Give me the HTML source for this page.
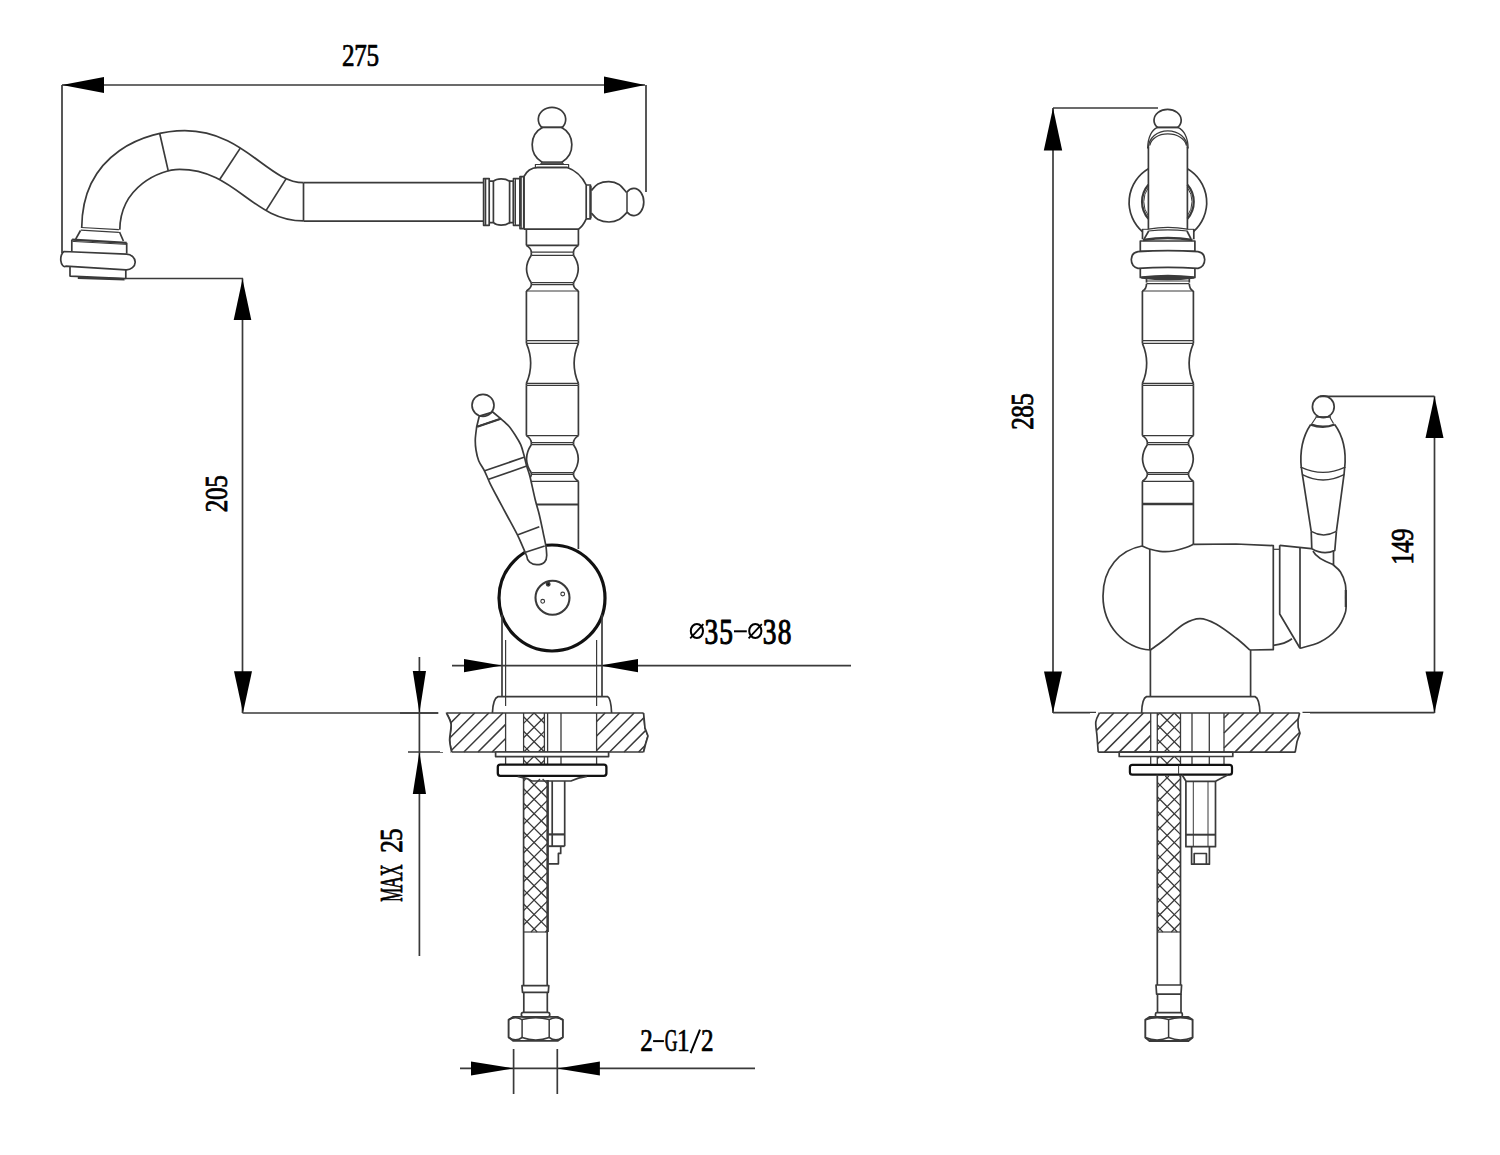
<!DOCTYPE html>
<html><head><meta charset="utf-8"><style>
html,body{margin:0;padding:0;background:#fff;width:1500px;height:1155px;overflow:hidden}
svg{display:block}
text{font-family:"Liberation Serif",serif;font-weight:normal;fill:#000;stroke:#000;stroke-width:0.75px}
</style></head><body>
<svg width="1500" height="1155" viewBox="0 0 1500 1155">
<g fill="none" stroke="#3a3a3a" stroke-width="1.7" stroke-linejoin="round" stroke-linecap="butt">
<line x1="62" y1="85" x2="645" y2="85"/>
<path d="M62 85 L104 77 L104 93 Z" fill="#000" stroke="none"/>
<path d="M645 85 L604 76.5 L604 93.5 Z" fill="#000" stroke="none"/>
<line x1="62" y1="85" x2="62" y2="253"/>
<line x1="646" y1="85" x2="646" y2="192"/>
<text transform="translate(348.2 65.8) scale(0.81 1)" font-size="31" text-anchor="middle">2</text>
<text transform="translate(360.5 65.8) scale(0.81 1)" font-size="31" text-anchor="middle">7</text>
<text transform="translate(372.8 65.8) scale(0.81 1)" font-size="31" text-anchor="middle">5</text>
<line x1="125" y1="278.5" x2="243" y2="278.5"/>
<line x1="242.5" y1="278.5" x2="242.5" y2="713"/>
<path d="M242.5 279 L233.7 320 L251.3 320 Z" fill="#000" stroke="none"/>
<path d="M243 712.8 L234 671.3 L252 671.3 Z" fill="#000" stroke="none"/>
<line x1="242.5" y1="713" x2="438.4" y2="713"/>
<text transform="translate(227.2 506) rotate(-90) scale(0.81 1)" font-size="31" text-anchor="middle">2</text>
<text transform="translate(227.2 493.8) rotate(-90) scale(0.81 1)" font-size="31" text-anchor="middle">0</text>
<text transform="translate(227.2 481.6) rotate(-90) scale(0.81 1)" font-size="31" text-anchor="middle">5</text>
<line x1="419.4" y1="657" x2="419.4" y2="956"/>
<path d="M419.4 713 L412.8 671 L426 671 Z" fill="#000" stroke="none"/>
<path d="M419.4 752 L412.8 794 L426 794 Z" fill="#000" stroke="none"/>
<line x1="400" y1="713" x2="438" y2="713"/>
<line x1="408" y1="752" x2="443" y2="752"/>
<text transform="translate(402.2 894.8) rotate(-90) scale(0.5 1)" font-size="31" text-anchor="middle">M</text>
<text transform="translate(402.2 882.4) rotate(-90) scale(0.56 1)" font-size="31" text-anchor="middle">A</text>
<text transform="translate(402.2 870.2) rotate(-90) scale(0.53 1)" font-size="31" text-anchor="middle">X</text>
<text transform="translate(402.2 846.4) rotate(-90) scale(0.81 1)" font-size="31" text-anchor="middle">2</text>
<text transform="translate(402.2 834.8) rotate(-90) scale(0.81 1)" font-size="31" text-anchor="middle">5</text>
<line x1="452" y1="665.6" x2="851" y2="665.6"/>
<path d="M502 665.6 L464 659 L464 672.2 Z" fill="#000" stroke="none"/>
<path d="M600 665.6 L638 659 L638 672.2 Z" fill="#000" stroke="none"/>
<text transform="translate(711.4 643.6) scale(0.76 1)" font-size="36" text-anchor="middle" style="stroke-width:1.1px">3</text>
<text transform="translate(726.2 643.6) scale(0.76 1)" font-size="36" text-anchor="middle" style="stroke-width:1.1px">5</text>
<text transform="translate(769.6 643.6) scale(0.76 1)" font-size="36" text-anchor="middle" style="stroke-width:1.1px">3</text>
<text transform="translate(784.6 643.6) scale(0.76 1)" font-size="36" text-anchor="middle" style="stroke-width:1.1px">8</text>
<line x1="734" y1="631.3" x2="746.8" y2="631.3" stroke-width="2" stroke="#000"/>
<ellipse cx="696.9" cy="631" rx="6.1" ry="7.1" stroke="#000" stroke-width="2.0"/>
<line x1="690.2" y1="638.3" x2="703.4" y2="624.2" stroke-width="1.8" stroke="#000"/>
<ellipse cx="755.3" cy="631" rx="6.1" ry="7.1" stroke="#000" stroke-width="2.0"/>
<line x1="748.6" y1="638.3" x2="761.8" y2="624.2" stroke-width="1.8" stroke="#000"/>
<line x1="460" y1="1068.4" x2="755" y2="1068.4"/>
<line x1="513.6" y1="1049" x2="513.6" y2="1094"/>
<line x1="557.3" y1="1049" x2="557.3" y2="1094"/>
<path d="M513.6 1068.4 L471 1061.4 L471 1075.4 Z" fill="#000" stroke="none"/>
<path d="M557.3 1068.4 L599.9 1061.4 L599.9 1075.4 Z" fill="#000" stroke="none"/>
<text transform="translate(646.5 1051.3) scale(0.81 1)" font-size="31" text-anchor="middle">2</text>
<text transform="translate(671.1 1051.3) scale(0.57 1)" font-size="31" text-anchor="middle">G</text>
<text transform="translate(683.2 1051.3) scale(0.81 1)" font-size="31" text-anchor="middle">1</text>
<text transform="translate(707.3 1051.3) scale(0.81 1)" font-size="31" text-anchor="middle">2</text>
<line x1="653.1" y1="1041.1" x2="663.9" y2="1041.1" stroke-width="2" stroke="#000"/>
<line x1="690.6" y1="1053.2" x2="700" y2="1029.6" stroke-width="2" stroke="#000"/>
<line x1="1053" y1="108" x2="1158" y2="108"/>
<line x1="1053" y1="108" x2="1053" y2="713"/>
<path d="M1053 108 L1043.8 150.4 L1062.2 150.4 Z" fill="#000" stroke="none"/>
<path d="M1053 712.7 L1044 671.5 L1062 671.5 Z" fill="#000" stroke="none"/>
<line x1="1053" y1="712.7" x2="1096" y2="712.7"/>
<text transform="translate(1033 423.5) rotate(-90) scale(0.81 1)" font-size="31" text-anchor="middle">2</text>
<text transform="translate(1033 411.4) rotate(-90) scale(0.81 1)" font-size="31" text-anchor="middle">8</text>
<text transform="translate(1033 399.4) rotate(-90) scale(0.81 1)" font-size="31" text-anchor="middle">5</text>
<line x1="1320" y1="396.3" x2="1434.5" y2="396.3"/>
<line x1="1434.5" y1="396.3" x2="1434.5" y2="713"/>
<path d="M1434.5 396.3 L1425.5 438 L1443.5 438 Z" fill="#000" stroke="none"/>
<path d="M1434.5 712.7 L1425.5 671.5 L1443.5 671.5 Z" fill="#000" stroke="none"/>
<line x1="1302.5" y1="712.7" x2="1434.5" y2="712.7"/>
<text transform="translate(1412.6 558.6) rotate(-90) scale(0.81 1)" font-size="31" text-anchor="middle">1</text>
<text transform="translate(1412.6 546.8) rotate(-90) scale(0.81 1)" font-size="31" text-anchor="middle">4</text>
<text transform="translate(1412.6 534.8) rotate(-90) scale(0.81 1)" font-size="31" text-anchor="middle">9</text>
<path d="M81.7 228 C82.2 151.7 147.3 130.7 184.8 130.7 C243.6 130.7 268.6 182.7 303.5 182.7"/>
<path d="M119.8 229.8 C120.2 186.7 160.3 169.4 179.6 169.4 C235.5 169.4 252.2 220.9 303.5 220.9"/>
<line x1="159.7" y1="133.5" x2="168.3" y2="171.1"/>
<line x1="240.3" y1="148.1" x2="219.5" y2="179.8"/>
<line x1="286.2" y1="178.6" x2="266.3" y2="210.1"/>
<line x1="303.5" y1="182.7" x2="303.5" y2="220.9"/>
<line x1="303.5" y1="182.6" x2="483.6" y2="182.6"/>
<line x1="303.5" y1="221.2" x2="483.6" y2="221.2"/>
<path d="M483.6 178.6 L489.2 178.6 L489.2 225.3 L483.6 225.3Z"/>
<line x1="485.5" y1="179" x2="485.5" y2="225" stroke-width="1.6"/>
<path d="M489.2 181.2 L493.4 181.2 C497 178 505 178 509.6 181.2 L509.6 222.7 C505 226 497 226 493.4 222.7 L489.2 222.7"/>
<line x1="493.4" y1="181.2" x2="493.4" y2="222.7"/>
<path d="M509.6 181.2 L513.5 181.2 L513.5 222.7 L509.6 222.7"/>
<path d="M513.5 178.6 L520 178.6 L520 225.3 L513.5 225.3Z"/>
<line x1="515.5" y1="178.6" x2="515.5" y2="225.3" stroke-width="1"/>
<path d="M520 176.6 L523.9 176.6 L523.9 228.6 L520 228.6Z"/>
<line x1="521.6" y1="176.6" x2="521.6" y2="228.6" stroke-width="0.9"/>
<path d="M523.9 228.6 L523.9 176.6 Q528 168 537.5 167.3 L566.8 167.3 Q580 172 586.2 185 L586.2 218.8 Q583 226 578.4 229.2 L523.9 229.2"/>
<path d="M535.4 164.5 L568.6 164.5 L568.6 167.6 L535.4 167.6Z" stroke-width="1.2"/>
<path d="M542 161.8 L562 161.8 L563.8 164.4 L540.3 164.4Z" fill="#555" stroke="#333" stroke-width="0.8"/>
<path d="M542.7 127.3 A20 20 0 0 0 542.1 162.2"/>
<path d="M561.3 127.3 A20 20 0 0 1 561.9 162.2"/>
<path d="M541.7 127.3 A13.7 12 0 1 1 562.3 127.3"/>
<line x1="540.8" y1="127.3" x2="563.2" y2="127.3" stroke-width="2"/>
<path d="M586.2 185 L590.5 185 L590.5 218.8 L586.2 218.8"/>
<line x1="590.5" y1="186" x2="590.5" y2="218" stroke-width="2.2"/>
<path d="M591.4 190.5 C592.5 189.42 595.07 185.48 598 184 C600.93 182.52 605.5 181.52 609 181.6 C612.5 181.68 616.08 182.68 619 184.5 C621.92 186.32 625.25 191.17 626.5 192.5"/>
<path d="M591.4 213 C592.5 214.08 595.07 218 598 219.5 C600.93 221 605.5 222 609 222 C612.5 222 616 221.12 619 219.5 C622 217.88 625.67 213.5 627 212.3"/>
<path d="M627 192 A10 13.6 0 1 1 627 212"/>
<line x1="627" y1="192" x2="627" y2="212" stroke-width="1.5"/>
<line x1="526.4" y1="229.2" x2="526.4" y2="245.4"/>
<line x1="578.4" y1="229.2" x2="578.4" y2="245.4"/>
<line x1="526.4" y1="245.4" x2="578.4" y2="245.4" stroke-width="1.6"/>
<path d="M526.4 245.4 Q531.3 248.46 531.3 252.2"/>
<path d="M578.4 245.4 Q573.5 248.46 573.5 252.2"/>
<line x1="531.3" y1="252.2" x2="573.5" y2="252.2" stroke-width="1.2"/>
<line x1="531.3" y1="255.3" x2="573.5" y2="255.3" stroke-width="1.2"/>
<line x1="531.3" y1="252.2" x2="531.3" y2="255.3"/>
<line x1="573.5" y1="252.2" x2="573.5" y2="255.3"/>
<path d="M531.3 255.3 Q521.8 269 531.3 282.7"/>
<path d="M573.5 255.3 Q583 269 573.5 282.7"/>
<line x1="531.3" y1="282.7" x2="573.5" y2="282.7" stroke-width="1.2"/>
<line x1="531.3" y1="284.6" x2="573.5" y2="284.6" stroke-width="1.2"/>
<line x1="531.3" y1="282.7" x2="531.3" y2="284.6"/>
<line x1="573.5" y1="282.7" x2="573.5" y2="284.6"/>
<path d="M526.4 291 Q531.3 288.12 531.3 284.6"/>
<path d="M578.4 291 Q573.5 288.12 573.5 284.6"/>
<line x1="526.4" y1="291" x2="578.4" y2="291" stroke-width="1.2"/>
<line x1="526.4" y1="291" x2="526.4" y2="340.7"/>
<line x1="578.4" y1="291" x2="578.4" y2="340.7"/>
<line x1="526.4" y1="340.7" x2="578.4" y2="340.7" stroke-width="1.2"/>
<line x1="526.4" y1="343.3" x2="578.4" y2="343.3" stroke-width="1.2"/>
<line x1="526.4" y1="340.7" x2="526.4" y2="343.3"/>
<line x1="578.4" y1="340.7" x2="578.4" y2="343.3"/>
<path d="M526.4 343.3 Q535 363.3 526.4 383.3"/>
<path d="M578.4 343.3 Q569.8 363.3 578.4 383.3"/>
<line x1="526.4" y1="383.3" x2="578.4" y2="383.3" stroke-width="1.2"/>
<line x1="526.4" y1="385.4" x2="578.4" y2="385.4" stroke-width="1.2"/>
<line x1="526.4" y1="383.3" x2="526.4" y2="385.4"/>
<line x1="578.4" y1="383.3" x2="578.4" y2="385.4"/>
<line x1="526.4" y1="385.4" x2="526.4" y2="435.6"/>
<line x1="578.4" y1="385.4" x2="578.4" y2="435.6"/>
<line x1="526.4" y1="435.6" x2="578.4" y2="435.6" stroke-width="1.2"/>
<path d="M526.4 435.6 Q531.3 438.8 531.3 442.7"/>
<path d="M578.4 435.6 Q573.5 438.8 573.5 442.7"/>
<line x1="531.3" y1="442.7" x2="573.5" y2="442.7" stroke-width="1.2"/>
<line x1="531.3" y1="444.7" x2="573.5" y2="444.7" stroke-width="1.2"/>
<line x1="531.3" y1="442.7" x2="531.3" y2="444.7"/>
<line x1="573.5" y1="442.7" x2="573.5" y2="444.7"/>
<path d="M531.3 444.7 Q521.8 458.7 531.3 472.7"/>
<path d="M573.5 444.7 Q583 458.7 573.5 472.7"/>
<line x1="531.3" y1="472.7" x2="573.5" y2="472.7" stroke-width="1.2"/>
<line x1="531.3" y1="474.3" x2="573.5" y2="474.3" stroke-width="1.2"/>
<line x1="531.3" y1="472.7" x2="531.3" y2="474.3"/>
<line x1="573.5" y1="472.7" x2="573.5" y2="474.3"/>
<path d="M526.4 481.3 Q531.3 478.15 531.3 474.3"/>
<path d="M578.4 481.3 Q573.5 478.15 573.5 474.3"/>
<line x1="529.7" y1="481.3" x2="578.4" y2="481.3" stroke-width="1.2"/>
<line x1="578.4" y1="481.3" x2="578.4" y2="549"/>
<line x1="535.3" y1="504.5" x2="578.4" y2="504.5" stroke-width="2.2"/>
<line x1="81.4" y1="227.5" x2="118.9" y2="229.6" stroke-width="1.2"/>
<line x1="80.8" y1="230.2" x2="118.9" y2="232.3" stroke-width="1.2"/>
<path d="M80.5 230.5 L75.7 239.2"/>
<path d="M119.5 232 L123.4 241"/>
<line x1="72.1" y1="239.6" x2="126.7" y2="242.8" stroke-width="2.3"/>
<line x1="72.4" y1="241.4" x2="126.7" y2="244.4" stroke-width="1"/>
<line x1="71.8" y1="239.5" x2="71.8" y2="251.5"/>
<line x1="126.7" y1="242.8" x2="126.7" y2="253.6"/>
<path d="M64 251.5 L126.4 254.2 A9 7.8 2.5 0 1 126 269.8 L65.8 266.2 A4 7.4 2.5 0 1 64 251.5 Z" fill="#fff"/>
<path d="M70 266.5 L70 276.1 L125.8 278.5 L125.8 269.8"/>
<line x1="77.8" y1="277.8" x2="124.6" y2="279.2" stroke-width="2.6"/>
<circle cx="552" cy="598" r="53" stroke="#111" stroke-width="3.2"/>
<ellipse cx="552.5" cy="597.8" rx="17" ry="17" stroke-width="2.1"/>
<ellipse cx="562.7" cy="594" rx="1.9" ry="1.9" stroke-width="1.1"/>
<ellipse cx="542.7" cy="601.3" rx="1.9" ry="1.9" stroke-width="1.1"/>
<ellipse cx="548.2" cy="584.3" rx="1.6" ry="1.6" fill="#000"/>
<path d="M500.7 418.7 C502.03 419.92 506.27 423.23 508.7 426 C511.13 428.77 513.3 432.18 515.3 435.3 C517.3 438.42 519.25 441.37 520.7 444.7 C522.15 448.03 523 451.75 524 455.3 C525 458.85 525.7 462.43 526.7 466 C527.7 469.57 528.57 471.03 530 476.7 C531.43 482.37 533.75 493.67 535.3 500 C536.85 506.33 537.97 509.15 539.3 514.7 C540.63 520.25 542.18 527.97 543.3 533.3 C544.42 538.63 545.43 543.13 546 546.7 C546.57 550.27 546.58 553.37 546.7 554.7 C547 561 544 564.7 536.7 564.7 C531 564.7 527 561 526.7 556 L526.7 556 C526.03 554.45 524.27 550.25 522.7 546.7 C521.13 543.15 519.87 539.82 517.3 534.7 C514.73 529.58 510.4 521.78 507.3 516 C504.2 510.22 501.58 505.45 498.7 500 C495.82 494.55 492.33 488.08 490 483.3 C487.67 478.52 486.58 475.07 484.7 471.3 C482.82 467.53 480.15 464.25 478.7 460.7 C477.25 457.15 476.57 453.57 476 450 C475.43 446.43 475.18 443.18 475.3 439.3 C475.42 435.42 476.47 428.8 476.7 426.7 Z" fill="#fff"/>
<line x1="484.7" y1="470.7" x2="524" y2="457.3"/>
<line x1="488.7" y1="479.3" x2="526.7" y2="466"/>
<line x1="518" y1="534.7" x2="539.3" y2="526.7"/>
<line x1="524" y1="552.7" x2="544.7" y2="546"/>
<path d="M476.7 426.7 L479.3 416 L492.7 412 L500.7 418.7"/>
<line x1="477.3" y1="426.7" x2="500.7" y2="418.7" stroke-width="2.2"/>
<line x1="479.5" y1="416.5" x2="492.7" y2="412.2" stroke-width="1.2"/>
<ellipse cx="483" cy="405.3" rx="11" ry="11"/>
<line x1="502" y1="614.5" x2="502" y2="696.6"/>
<line x1="602" y1="614.5" x2="602" y2="696.6"/>
<line x1="505.6" y1="640" x2="505.6" y2="706" stroke-width="1.2"/>
<line x1="596.6" y1="640" x2="596.6" y2="706" stroke-width="1.2"/>
<path d="M492.4 713 Q493 698.5 498 696.6 L607.5 696.6 Q611 698.5 611.6 713"/>
<path d="M446.4 713 C447.17 714.83 450.47 719.5 451 724 C451.53 728.5 449.5 735.33 449.6 740 C449.7 744.67 451.27 750 451.6 752"/>
<path d="M643.6 713 L645 728 L648 736 L645.6 744 L643.6 752"/>
<line x1="446.4" y1="713" x2="643.6" y2="713"/>
<line x1="451.6" y1="752" x2="643.6" y2="752"/>
<path d="M446 713.5 L446.5 713 M446 727.6 L460.6 713 M446 741.7 L474.7 713 M449.8 752 L488.8 713 M463.9 752 L502.9 713 M478 752 L505.6 724.4 M492.1 752 L505.6 738.5" stroke-width="1.5"/>
<path d="M596.6 721.5 L605.1 713 M596.6 736 L619.6 713 M596.6 750.5 L634.1 713 M609.6 752 L648 713.6 M624.1 752 L648 728.1 M638.6 752 L648 742.6" stroke-width="1.5"/>
<path d="M440 713 L446.4 713 L451 724 L449.6 740 L451.6 752 L440 752Z M643.6 713 L645 728 L648 736 L645.6 744 L643.6 752 L660 752 L660 713Z" fill="#fff" stroke="none"/>
<path d="M446.4 713 C447.17 714.83 450.47 719.5 451 724 C451.53 728.5 449.5 735.33 449.6 740 C449.7 744.67 451.27 750 451.6 752"/>
<path d="M643.6 713 L645 728 L648 736 L645.6 744 L643.6 752"/>
<line x1="505.6" y1="713" x2="505.6" y2="764.4" stroke-width="1.3"/>
<line x1="596.6" y1="713" x2="596.6" y2="764.4" stroke-width="1.3"/>
<line x1="523.6" y1="713" x2="523.6" y2="764.4" stroke-width="1.3"/>
<line x1="544.4" y1="713" x2="544.4" y2="764.4" stroke-width="1.3"/>
<line x1="547.6" y1="713" x2="547.6" y2="764.4" stroke-width="1.3"/>
<line x1="561" y1="713" x2="561" y2="764.4" stroke-width="1.3"/>
<path d="M523.6 723.4 L534 713 M523.6 737.8 L544.4 717 M523.6 752.2 L544.4 731.4 M525.8 764.4 L544.4 745.8 M540.2 764.4 L544.4 760.2" stroke-width="1.3"/>
<path d="M523.6 760 L528 764.4 M523.6 745.6 L542.4 764.4 M523.6 731.2 L544.4 752 M523.6 716.8 L544.4 737.6 M534.2 713 L544.4 723.2" stroke-width="1.3"/>
<rect x="495.6" y="752" width="113" height="4.6" fill="#fff"/>
<rect x="497.8" y="764.6" width="108.6" height="11.2" rx="2.5" fill="#fff" stroke="#111" stroke-width="2.3"/>
<path d="M517.7 776.3 L527 778.6 L531.7 781 L570.9 781 L578.4 778.1 L586.8 776.3"/>
<line x1="523.6" y1="777" x2="523.6" y2="985.6"/>
<line x1="547.2" y1="780" x2="547.2" y2="985.6"/>
<line x1="548.4" y1="780" x2="548.4" y2="932" stroke-width="1"/>
<path d="M523.6 781 L525.6 779 M523.6 795.4 L540 779 M523.6 809.8 L547.2 786.2 M523.6 824.2 L547.2 800.6 M523.6 838.6 L547.2 815 M523.6 853 L547.2 829.4 M523.6 867.4 L547.2 843.8 M523.6 881.8 L547.2 858.2 M523.6 896.2 L547.2 872.6 M523.6 910.6 L547.2 887 M523.6 925 L547.2 901.4 M531 932 L547.2 915.8 M545.4 932 L547.2 930.2" stroke-width="1.3"/>
<path d="M523.6 918.4 L537.2 932 M523.6 904 L547.2 927.6 M523.6 889.6 L547.2 913.2 M523.6 875.2 L547.2 898.8 M523.6 860.8 L547.2 884.4 M523.6 846.4 L547.2 870 M523.6 832 L547.2 855.6 M523.6 817.6 L547.2 841.2 M523.6 803.2 L547.2 826.8 M523.6 788.8 L547.2 812.4 M528.2 779 L547.2 798 M542.6 779 L547.2 783.6" stroke-width="1.3"/>
<line x1="523.6" y1="932" x2="547.2" y2="932" stroke-width="1.2"/>
<line x1="552.2" y1="781" x2="552.2" y2="846.2"/>
<line x1="564.7" y1="781" x2="564.7" y2="846.2"/>
<line x1="548.4" y1="834.4" x2="564.7" y2="834.4" stroke-width="2.2"/>
<line x1="548.4" y1="846.2" x2="564.7" y2="846.2" stroke-width="1.9"/>
<path d="M560.7 846.2 L560.7 853.4 L558.4 853.4 L558.4 863.8 L548.4 863.8"/>
<path d="M522 985.6 L548.8 985.6 L548.3 992.4 L522.5 992.4Z"/>
<line x1="523.8" y1="992.4" x2="523.8" y2="1012.3"/>
<line x1="547.3" y1="992.4" x2="547.3" y2="1012.3"/>
<rect x="521.4" y="1012.3" width="28.3" height="4.6" rx="2"/>
<path d="M513.4 1016.9 L557.6 1016.9 L562.9 1019.8 L562.9 1037.3 L557.6 1040.9 L513.4 1040.9 L508.6 1037.3 L508.6 1019.8Z" stroke-width="1.9"/>
<line x1="522.1" y1="1019.6" x2="522.1" y2="1037.5" stroke-width="1.5"/>
<line x1="549.2" y1="1019.6" x2="549.2" y2="1037.5" stroke-width="1.5"/>
<path d="M508.6 1019.8 Q515.4 1015.9 522.1 1019.6 Q535.8 1015.9 549.2 1019.6 Q556 1015.9 562.9 1019.8" stroke-width="1.6"/>
<path d="M508.6 1037.3 Q515.4 1042.4 522.1 1037.5 Q535.8 1042.4 549.2 1037.5 Q556 1042.4 562.9 1037.3" stroke-width="1.6"/>
<path d="M1148.4 168.8 A38.9 38.9 0 0 0 1142.3 231.6"/>
<path d="M1187.4 168.8 A38.9 38.9 0 0 1 1193.5 231.6"/>
<path d="M1148.4 184.7 A25.9 25.9 0 0 0 1148.4 218.7" stroke-width="2.2"/>
<path d="M1187.4 184.7 A25.9 25.9 0 0 1 1187.4 218.7" stroke-width="2.2"/>
<path d="M1148.4 187.5 A24 24 0 0 0 1148.4 215.9" stroke-width="1"/>
<path d="M1187.4 187.5 A24 24 0 0 1 1187.4 215.9" stroke-width="1"/>
<line x1="1148.4" y1="147" x2="1148.4" y2="229.5"/>
<line x1="1187.4" y1="147" x2="1187.4" y2="229.5"/>
<path d="M1148.4 147.5 C1149 138 1157 130.8 1167.8 130.8 C1178.6 130.8 1187 138 1187.4 147.5" stroke-width="1.3"/>
<path d="M1149.8 145.5 C1151 139 1158 133.9 1167.8 133.9 C1177.6 133.9 1185 139 1186.5 145.5" stroke-width="1.2"/>
<path d="M1157.4 127.4 C1152 130 1148 137 1147.6 148.5" stroke-width="1.3"/>
<path d="M1177.8 127.4 C1183.5 130 1187.8 137 1188.2 148.5" stroke-width="1.3"/>
<path d="M1157.4 127.4 A13.6 10.9 0 1 1 1177.8 127.4"/>
<line x1="1157" y1="127.4" x2="1178.2" y2="127.4" stroke-width="2"/>
<path d="M1148.4 229.2 Q1167.9 225.6 1187.4 229.2" stroke-width="1.2"/>
<path d="M1148.4 231 Q1167.9 228.6 1187.4 231" stroke-width="1.2"/>
<line x1="1142.5" y1="229" x2="1142.5" y2="239.3"/>
<line x1="1193.8" y1="229" x2="1193.8" y2="239.3"/>
<line x1="1142" y1="229.3" x2="1148.4" y2="229.3" stroke-width="1"/>
<line x1="1187.4" y1="229.3" x2="1194.3" y2="229.3" stroke-width="1"/>
<path d="M1148.7 231 L1144.2 238.9"/>
<path d="M1187 231 L1191 238.9"/>
<path d="M1143 240 Q1167.9 236 1192.5 240" stroke-width="2.6"/>
<path d="M1140.3 241 L1194.9 241 L1194.9 251.3 L1140.3 251.3Z"/>
<path d="M1138 251.6 Q1167.9 249.8 1198 251.6 Q1204.7 253 1204.7 259.5 Q1204.7 266.5 1198 268.4 Q1167.9 266.5 1138 268.4 Q1131.3 266.5 1131.3 259.5 Q1131.3 253 1138 251.6Z" fill="#fff"/>
<path d="M1140.3 268.3 L1140.3 277.5 L1194.9 277.5 L1194.9 268.3"/>
<path d="M1142 277.5 Q1167.9 274.5 1193.5 277.5 Q1167.9 280.5 1142 277.5Z" stroke-width="2.4"/>
<line x1="1146.5" y1="279" x2="1146.5" y2="282.6"/>
<line x1="1189.3" y1="279" x2="1189.3" y2="282.6"/>
<line x1="1146.5" y1="281" x2="1189.3" y2="281" stroke-width="1"/>
<line x1="1146.5" y1="283.7" x2="1189.3" y2="283.7" stroke-width="1.2"/>
<path d="M1146.5 283.7 Q1146.5 289 1142.4 291 M1189.3 283.7 Q1189.3 289 1193.3 291"/>
<line x1="1142.4" y1="291" x2="1193.4" y2="291" stroke-width="1.2"/>
<line x1="1142.4" y1="291" x2="1142.4" y2="340.7"/>
<line x1="1193.4" y1="291" x2="1193.4" y2="340.7"/>
<line x1="1142.4" y1="340.7" x2="1193.4" y2="340.7" stroke-width="1.2"/>
<line x1="1142.4" y1="343.3" x2="1193.4" y2="343.3" stroke-width="1.2"/>
<line x1="1142.4" y1="340.7" x2="1142.4" y2="343.3"/>
<line x1="1193.4" y1="340.7" x2="1193.4" y2="343.3"/>
<path d="M1142.4 343.3 Q1151 363.3 1142.4 383.3"/>
<path d="M1193.4 343.3 Q1184.8 363.3 1193.4 383.3"/>
<line x1="1142.4" y1="383.3" x2="1193.4" y2="383.3" stroke-width="1.2"/>
<line x1="1142.4" y1="385.4" x2="1193.4" y2="385.4" stroke-width="1.2"/>
<line x1="1142.4" y1="383.3" x2="1142.4" y2="385.4"/>
<line x1="1193.4" y1="383.3" x2="1193.4" y2="385.4"/>
<line x1="1142.4" y1="385.4" x2="1142.4" y2="435.6"/>
<line x1="1193.4" y1="385.4" x2="1193.4" y2="435.6"/>
<line x1="1142.4" y1="435.6" x2="1193.4" y2="435.6" stroke-width="1.2"/>
<path d="M1142.4 435.6 Q1147.3 438.8 1147.3 442.7"/>
<path d="M1193.4 435.6 Q1188.5 438.8 1188.5 442.7"/>
<line x1="1147.3" y1="442.7" x2="1188.5" y2="442.7" stroke-width="1.2"/>
<line x1="1147.3" y1="444.7" x2="1188.5" y2="444.7" stroke-width="1.2"/>
<line x1="1147.3" y1="442.7" x2="1147.3" y2="444.7"/>
<line x1="1188.5" y1="442.7" x2="1188.5" y2="444.7"/>
<path d="M1147.3 444.7 Q1137.8 458.7 1147.3 472.7"/>
<path d="M1188.5 444.7 Q1198 458.7 1188.5 472.7"/>
<line x1="1147.3" y1="472.7" x2="1188.5" y2="472.7" stroke-width="1.2"/>
<line x1="1147.3" y1="474.3" x2="1188.5" y2="474.3" stroke-width="1.2"/>
<line x1="1147.3" y1="472.7" x2="1147.3" y2="474.3"/>
<line x1="1188.5" y1="472.7" x2="1188.5" y2="474.3"/>
<path d="M1142.4 481.3 Q1147.3 478.15 1147.3 474.3"/>
<path d="M1193.4 481.3 Q1188.5 478.15 1188.5 474.3"/>
<line x1="1142.4" y1="481.3" x2="1193.4" y2="481.3" stroke-width="1.2"/>
<line x1="1142.4" y1="481.3" x2="1142.4" y2="546"/>
<line x1="1193.4" y1="481.3" x2="1193.4" y2="544.4"/>
<line x1="1142.4" y1="504" x2="1193.4" y2="504" stroke-width="2.4"/>
<path d="M1142 546 C1143.22 546.5 1146.3 548.12 1149.3 549 C1152.3 549.88 1156.05 550.97 1160 551.3 C1163.95 551.63 1168.67 551.63 1173 551 C1177.33 550.37 1182.62 548.62 1186 547.5 C1189.38 546.38 1192.08 544.83 1193.3 544.3"/>
<path d="M1142 546 C1120 550 1103 568 1103 596 C1103 626 1124 648 1150.4 650"/>
<line x1="1149.8" y1="549" x2="1149.8" y2="650"/>
<path d="M1193.3 544.3 L1236 544 L1273.3 545.6 L1273.3 649.6 L1250 650"/>
<path d="M1150.4 650 C1152.67 648.33 1158.4 644.33 1164 640 C1169.6 635.67 1178 627.57 1184 624 C1190 620.43 1194.67 618.6 1200 618.6 C1205.33 618.6 1210 620.77 1216 624 C1222 627.23 1230.33 633.67 1236 638 C1241.67 642.33 1247.67 648 1250 650"/>
<line x1="1150.4" y1="650" x2="1150.4" y2="696.6"/>
<line x1="1250.6" y1="650" x2="1250.6" y2="696.6"/>
<path d="M1141.6 713 Q1142 698.5 1146.5 696.6 L1255 696.6 Q1259.5 698.5 1260 713"/>
<line x1="1273.3" y1="549.3" x2="1279.7" y2="549.3" stroke-width="1.2"/>
<path d="M1279.7 545.3 L1279.7 614 L1300 648.3"/>
<line x1="1279.7" y1="545.3" x2="1311.3" y2="548.7"/>
<line x1="1300" y1="547.3" x2="1300" y2="648.3"/>
<path d="M1273.3 645.3 Q1285 644 1292 638.7"/>
<path d="M1333 564.7 C1334.25 565.92 1338.45 568.78 1340.5 572 C1342.55 575.22 1344.42 579.67 1345.3 584 C1346.18 588.33 1345.8 593.22 1345.8 598 C1345.8 602.78 1346.93 607.37 1345.3 612.7 C1343.67 618.03 1340.22 625.12 1336 630 C1331.78 634.88 1326 638.95 1320 642 C1314 645.05 1303.33 647.25 1300 648.3"/>
<line x1="1345.8" y1="590" x2="1345.8" y2="607" stroke-width="2.2"/>
<path d="M1313 551.2 Q1316.5 558.5 1333.5 564.7 L1333.5 550.3"/>
<path d="M1311.2 531.4 L1311.8 548.8 Q1323.5 555.5 1334.8 550.5 L1336.4 531.4"/>
<path d="M1311.2 531.4 Q1323.5 538.5 1336.4 531.4" stroke-width="1.4"/>
<path d="M1302.4 474.7 L1311.2 531.4 M1344 474.7 L1336.4 531.4 M1301.3 467 L1302.4 475 M1344.7 467 L1344 475"/>
<path d="M1301.3 467.3 Q1323 477.3 1344.7 467.3" stroke-width="1.3"/>
<path d="M1302.4 474.7 Q1323 485.3 1344 474.7" stroke-width="1.3"/>
<path d="M1301.3 468 C1299.5 450 1303 436 1310.7 424.5 M1344.7 468 C1346.5 450 1343 436 1334.7 424.5"/>
<path d="M1310.7 424.5 Q1323 429 1334.7 424.5" stroke-width="2.4"/>
<path d="M1312 423.5 L1316 417.5 M1333.5 423.5 L1330 417.5" stroke-width="1.2"/>
<line x1="1315.5" y1="417" x2="1331" y2="417" stroke-width="1.6"/>
<ellipse cx="1323.3" cy="406.8" rx="10.9" ry="10.9"/>
<path d="M1095 717.1 L1099.1 713 M1095 731.9 L1113.9 713 M1095 746.7 L1128.7 713 M1104.4 752.1 L1143.5 713 M1119.2 752.1 L1150.7 720.6 M1134 752.1 L1150.7 735.4 M1148.8 752.1 L1150.7 750.2" stroke-width="1.5"/>
<path d="M1224 718 L1229 713 M1224 733 L1244 713 M1224 748 L1259 713 M1234.9 752.1 L1274 713 M1249.9 752.1 L1289 713 M1264.9 752.1 L1302 715 M1279.9 752.1 L1302 730 M1294.9 752.1 L1302 745" stroke-width="1.5"/>
<path d="M1090 713 L1099.4 713 L1095.8 721.8 L1097 736 L1098.2 752.1 L1090 752.1Z M1299.6 713 L1298 720 L1298.2 727.3 L1300 733.3 L1297 741.8 L1295.2 752.1 L1310 752.1 L1310 713Z" fill="#fff" stroke="none"/>
<path d="M1099.4 713 C1098.8 714.47 1096.2 717.97 1095.8 721.8 C1095.4 725.63 1096.6 730.95 1097 736 C1097.4 741.05 1098 749.42 1098.2 752.1"/>
<path d="M1299.6 713 L1298 720 L1298.2 727.3 L1300 733.3 L1297 741.8 L1295.2 752.1"/>
<line x1="1099.4" y1="713" x2="1299.6" y2="713"/>
<line x1="1098.2" y1="752.1" x2="1295.2" y2="752.1"/>
<line x1="1150.7" y1="713" x2="1150.7" y2="764.8" stroke-width="1.3"/>
<line x1="1157.3" y1="713" x2="1157.3" y2="764.8" stroke-width="1.3"/>
<line x1="1180.5" y1="713" x2="1180.5" y2="764.8" stroke-width="1.3"/>
<line x1="1192" y1="713" x2="1192" y2="764.8" stroke-width="1.3"/>
<line x1="1209.3" y1="713" x2="1209.3" y2="764.8" stroke-width="1.3"/>
<line x1="1224" y1="713" x2="1224" y2="764.8" stroke-width="1.3"/>
<path d="M1157.3 715.6 L1159.9 713 M1157.3 730 L1174.3 713 M1157.3 744.4 L1180.5 721.2 M1157.3 758.8 L1180.5 735.6 M1165.7 764.8 L1180.5 750 M1180.1 764.8 L1180.5 764.4" stroke-width="1.3"/>
<path d="M1157.3 753.6 L1168.5 764.8 M1157.3 739.2 L1180.5 762.4 M1157.3 724.8 L1180.5 748 M1159.9 713 L1180.5 733.6 M1174.3 713 L1180.5 719.2" stroke-width="1.3"/>
<rect x="1119.2" y="752.1" width="113.6" height="4.4" fill="#fff"/>
<rect x="1129.9" y="764.8" width="102.1" height="9.9" rx="2.5" fill="#fff" stroke="#111" stroke-width="2.2"/>
<line x1="1178.6" y1="765.5" x2="1178.6" y2="774" stroke-width="1"/>
<line x1="1157.3" y1="774.7" x2="1157.3" y2="985"/>
<line x1="1180.5" y1="774.7" x2="1180.5" y2="985"/>
<path d="M1157.3 787.6 L1168.9 776 M1157.3 802 L1180.5 778.8 M1157.3 816.4 L1180.5 793.2 M1157.3 830.8 L1180.5 807.6 M1157.3 845.2 L1180.5 822 M1157.3 859.6 L1180.5 836.4 M1157.3 874 L1180.5 850.8 M1157.3 888.4 L1180.5 865.2 M1157.3 902.8 L1180.5 879.6 M1157.3 917.2 L1180.5 894 M1157.3 931.6 L1180.5 908.4 M1171.3 932 L1180.5 922.8" stroke-width="1.3"/>
<path d="M1157.3 926.4 L1162.9 932 M1157.3 912 L1177.3 932 M1157.3 897.6 L1180.5 920.8 M1157.3 883.2 L1180.5 906.4 M1157.3 868.8 L1180.5 892 M1157.3 854.4 L1180.5 877.6 M1157.3 840 L1180.5 863.2 M1157.3 825.6 L1180.5 848.8 M1157.3 811.2 L1180.5 834.4 M1157.3 796.8 L1180.5 820 M1157.3 782.4 L1180.5 805.6 M1165.3 776 L1180.5 791.2 M1179.7 776 L1180.5 776.8" stroke-width="1.3"/>
<line x1="1157.3" y1="932" x2="1180.5" y2="932" stroke-width="1.2"/>
<path d="M1182 774.7 L1186 781.3 L1215.5 781.3 L1228 774.7"/>
<path d="M1185.9 781.3 L1185.9 846.7 L1215.5 846.7 L1215.5 781.3"/>
<line x1="1193.3" y1="781.3" x2="1193.3" y2="846.7" stroke-width="1"/>
<line x1="1208" y1="781.3" x2="1208" y2="846.7" stroke-width="1"/>
<line x1="1185.9" y1="834.7" x2="1215.5" y2="834.7" stroke-width="2"/>
<path d="M1191.6 846.7 L1191.6 864.2 L1209.4 864.2 L1209.4 846.7"/>
<path d="M1194.2 864.2 L1194.2 853.5 L1206.4 853.5 L1206.4 864.2"/>
<path d="M1156 985 L1181.6 985 L1181 994.1 L1156.6 994.1Z"/>
<line x1="1157.5" y1="994.1" x2="1157.5" y2="1012.8"/>
<line x1="1181" y1="994.1" x2="1181" y2="1012.8"/>
<rect x="1155.5" y="1012.6" width="26.8" height="4.4" rx="1.5"/>
<path d="M1149.5 1017 L1188.4 1017 L1192.6 1019.8 L1192.6 1037.5 L1188.4 1041 L1149.5 1041 L1145.3 1037.5 L1145.3 1019.8Z" stroke-width="1.9"/>
<line x1="1168.6" y1="1019.6" x2="1168.6" y2="1037.6" stroke-width="1.5"/>
<path d="M1145.3 1019.8 Q1157 1015.9 1168.6 1019.6 Q1180.6 1015.9 1192.6 1019.8" stroke-width="1.6"/>
<path d="M1145.3 1037.5 Q1157 1042.4 1168.6 1037.6 Q1180.6 1042.4 1192.6 1037.5" stroke-width="1.6"/>
</g>
</svg>
</body></html>
